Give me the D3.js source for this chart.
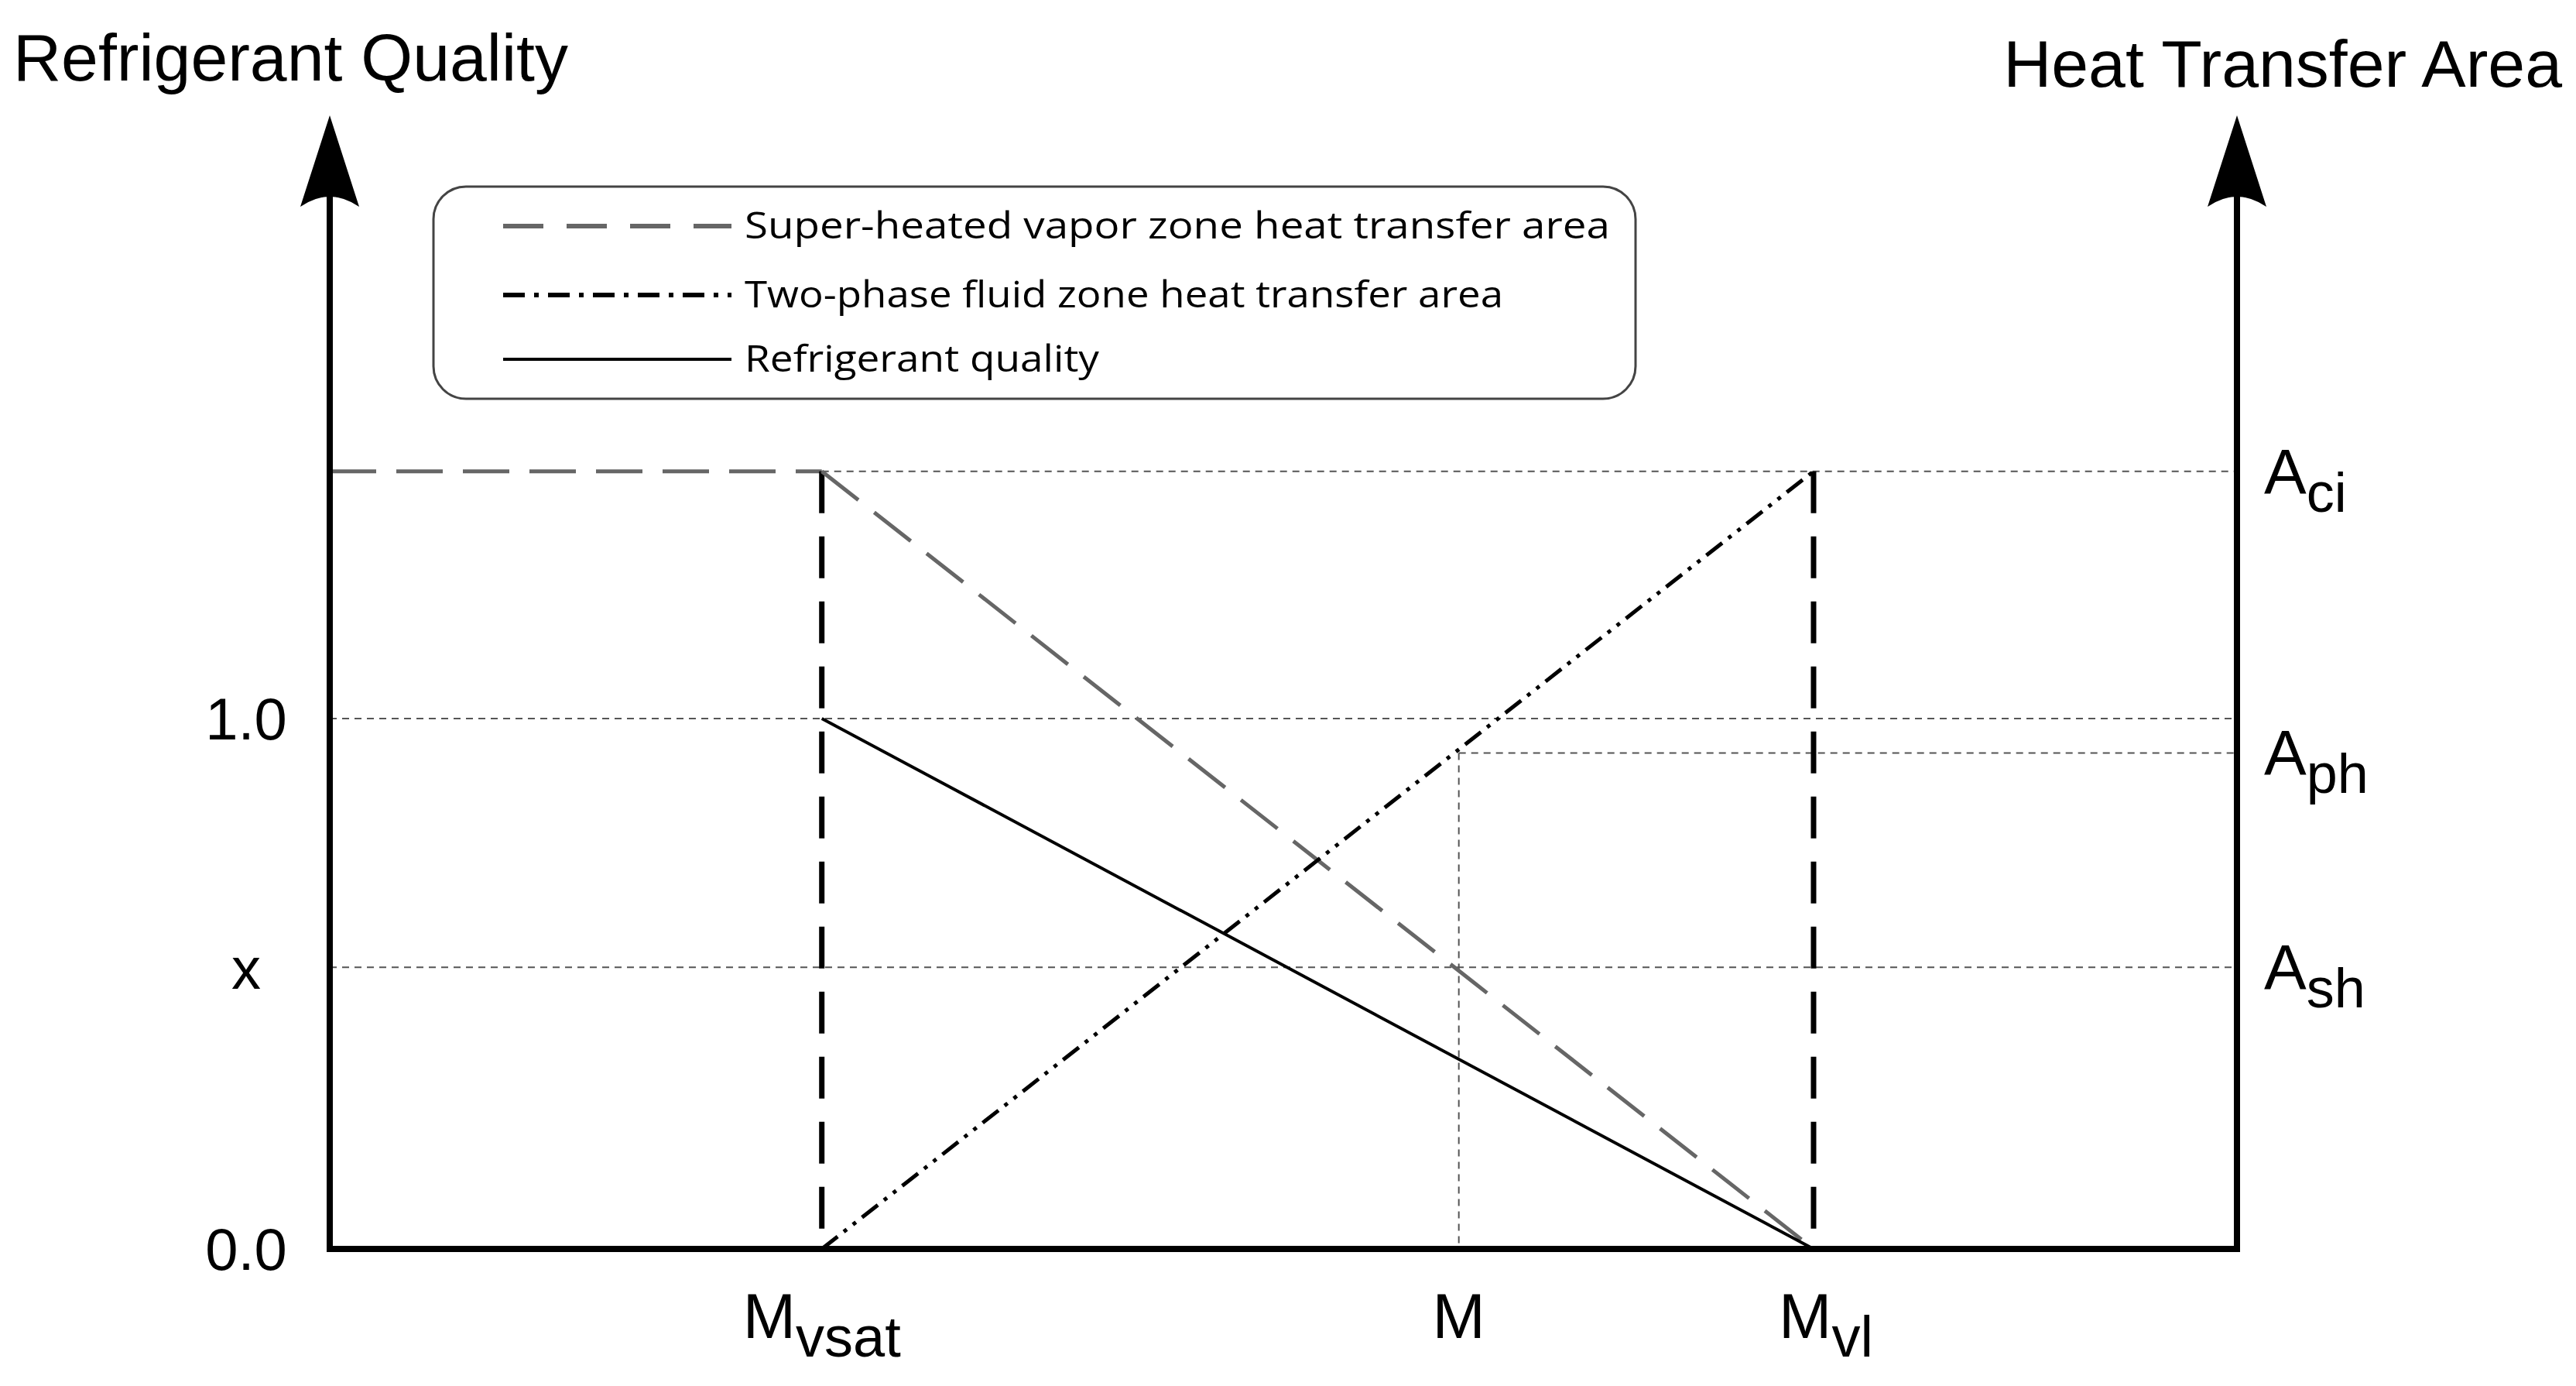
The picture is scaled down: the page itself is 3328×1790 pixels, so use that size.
<!DOCTYPE html>
<html><head><meta charset="utf-8">
<script src="https://cdn.jsdelivr.net/npm/d3@7"></script>
<style>body{margin:0;background:#fff}</style>
</head><body>
<svg id="chart" width="3328" height="1790"></svg>
<script>
// Mass positions (fraction of x axis) and quality / area levels
const massTicks = [
  { key: "Mvsat", value: 0.258, main: "M", sub: "vsat" },
  { key: "M", value: 0.592, main: "M", sub: "" },
  { key: "Mvl", value: 0.778, main: "M", sub: "vl" },
];
const qualityTicks = [
  { label: "1.0", value: 1.0 },
  { label: "x", value: 0.531 },
  { label: "0.0", value: 0.0 },
];
const areaTicks = [
  { sub: "ci", value: 1.466 },
  { sub: "ph", value: 0.935 },
  { sub: "sh", value: 0.531 },
];
const mVsat = 0.258, mM = 0.592, mVl = 0.778;
const superHeated = [[mVsat, 1.466], [mVl, 0]];
const twoPhase = [[mVsat, 0], [mVl, 1.466]];
const quality = [[mVsat, 1.0], [mVl, 0]];
const legendItems = [
  { text: "Super-heated  vapor  zone  heat transfer area", type: "sh" },
  { text: "Two-phase fluid zone heat transfer area", type: "tp" },
  { text: "Refrigerant quality", type: "q" },
];

const svg = d3.select("#chart");
const x = d3.scaleLinear().domain([0, 1]).range([426, 2890]);
const y = d3.scaleLinear().domain([0, 2.137]).range([1613, 149]);
const line = d3.line().x((d) => x(d[0])).y((d) => y(d[1]));
const font = "'Liberation Sans', Arial, sans-serif";

const styles = {
  sh: { stroke: "#666", width: 5, dash: "60,26" },
  tp: { stroke: "#000", width: 5, dash: "26,10,5,10,5,10" },
  tpLegend: { stroke: "#000", width: 6, dash: "28,12,6,12" },
  q: { stroke: "#000", width: 4, dash: null },
};

// Thin reference lines
const thin = svg.append("g").attr("stroke", "#555").attr("stroke-width", 2).attr("stroke-dasharray", "9,7");
thin.append("line").attr("x1", x(mVsat)).attr("x2", x(1)).attr("y1", y(1.466)).attr("y2", y(1.466));
thin.append("line").attr("x1", x(0)).attr("x2", x(1)).attr("y1", y(1)).attr("y2", y(1));
thin.append("line").attr("x1", x(0)).attr("x2", x(1)).attr("y1", y(0.531)).attr("y2", y(0.531));
thin.append("line").attr("x1", x(mM)).attr("x2", x(1)).attr("y1", y(0.935)).attr("y2", y(0.935));
thin.append("line").attr("x1", x(mM)).attr("x2", x(mM)).attr("y1", y(0.935)).attr("y2", y(0));

// Horizontal superheated segment left of Mvsat
svg.append("line").attr("x1", x(0)).attr("x2", x(mVsat)).attr("y1", y(1.466)).attr("y2", y(1.466))
  .attr("stroke", "#666").attr("stroke-width", 5).attr("stroke-dasharray", "60,26");

// Thick vertical dashed lines
[mVsat, mVl].forEach((m) => {
  svg.append("line").attr("x1", x(m)).attr("x2", x(m)).attr("y1", y(1.466)).attr("y2", y(0))
    .attr("stroke", "#000").attr("stroke-width", 7).attr("stroke-dasharray", "54,30");
});

// Series lines
[[superHeated, styles.sh], [twoPhase, styles.tp], [quality, styles.q]].forEach(([d, s]) => {
  svg.append("path").attr("d", line(d)).attr("fill", "none")
    .attr("stroke", s.stroke).attr("stroke-width", s.width).attr("stroke-dasharray", s.dash);
});

// Axes with arrowheads
const axisG = svg.append("g").attr("stroke", "#000").attr("stroke-width", 8).attr("fill", "none");
axisG.append("path").attr("d", `M${x(0)},${y(2.137) + 60}V${y(0)}H${x(1)}V${y(2.137) + 60}`)
  .attr("stroke-linejoin", "miter");
[0, 1].forEach((v) => {
  const cx = x(v), ty = y(2.137);
  svg.append("path")
    .attr("d", `M${cx},${ty} L${cx + 38},${ty + 118} Q${cx},${ty + 92} ${cx - 38},${ty + 118} Z`)
    .attr("fill", "#000");
});

// Titles
svg.append("text").attr("x", 17).attr("y", 104).attr("font-family", font).attr("font-size", 86)
  .text("Refrigerant Quality");
svg.append("text").attr("x", 3310).attr("y", 112).attr("text-anchor", "end").attr("font-family", font)
  .attr("font-size", 86).text("Heat Transfer Area");

// Left tick labels
svg.append("g").selectAll("text").data(qualityTicks).join("text")
  .attr("x", 318).attr("y", (d) => y(d.value)).attr("dy", "0.36em").attr("text-anchor", "middle")
  .attr("font-family", font).attr("font-size", 76).text((d) => d.label);

// Right tick labels
const rt = svg.append("g").selectAll("text").data(areaTicks).join("text")
  .attr("x", 2925).attr("y", (d) => y(d.value) + 28).attr("font-family", font).attr("font-size", 82);
rt.append("tspan").text("A");
rt.append("tspan").attr("dy", 24).attr("font-size", 72).text((d) => d.sub);

// Bottom tick labels
const bt = svg.append("g").selectAll("text").data(massTicks).join("text")
  .attr("x", (d) => x(d.value) + (d.sub === "vsat" ? 0 : d.sub ? 16 : 0)).attr("y", 1728)
  .attr("text-anchor", "middle").attr("font-family", font).attr("font-size", 82);
bt.append("tspan").text((d) => d.main);
bt.append("tspan").attr("dy", 24).attr("font-size", 74).text((d) => d.sub);

// Legend
const lg = svg.append("g");
lg.append("rect").attr("x", 560).attr("y", 241).attr("width", 1553).attr("height", 274).attr("rx", 42)
  .attr("fill", "#fff").attr("stroke", "#444").attr("stroke-width", 3);
const rows = lg.selectAll("g").data(legendItems).join("g")
  .attr("transform", (d, i) => `translate(0,${[292, 381, 464][i]})`);
rows.append("line").attr("x1", 650).attr("x2", 945).attr("y1", 0).attr("y2", 0)
  .attr("stroke", (d) => (d.type === "sh" ? "#666" : "#000"))
  .attr("stroke-width", (d) => (d.type === "q" ? 4 : 6))
  .attr("stroke-dasharray", (d) => (d.type === "sh" ? "52,30" : d.type === "tp" ? "28,12,6,12" : null));
rows.append("text").attr("x", 962).attr("dy", "0.35em").attr("font-family", "'Open Sans', sans-serif")
  .attr("font-size", 47).attr("textLength", (d, i) => [1118, 980, 458][i]).attr("lengthAdjust", "spacingAndGlyphs")
  .text((d) => d.text);
</script>
</body></html>
